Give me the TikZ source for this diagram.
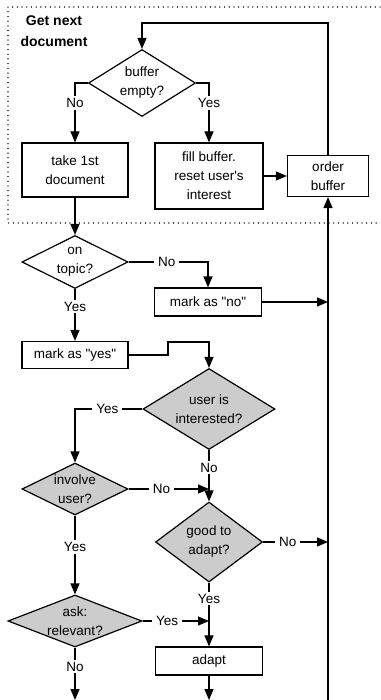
\documentclass[tikz,border=0pt]{standalone}
\usepackage{fontspec}
\setmainfont{Liberation Sans}
\usetikzlibrary{shapes.geometric,arrows.meta}

\begin{document}
\begin{tikzpicture}[x=1pt,y=-1pt,
  >={Triangle[length=11pt,width=9pt]},
  every node/.style={font=\fontsize{13.5}{19}\selectfont,align=center},
  proc/.style={draw,line width=1.2pt,inner sep=0pt},
  dec/.style={draw,diamond,line width=1.2pt,inner sep=0pt},
  shade/.style={dec,fill=black!20},
  lbl/.style={fill=white,inner xsep=4pt,inner ysep=2pt},
  flow/.style={->,line width=1.2pt}]
  \useasboundingbox (0,0) rectangle (380,700);
  % dotted frame round the first stage
  \draw[black!85,line width=1.3pt,dash pattern=on 0.01pt off 4.7pt,line cap=round]
    (380,7) -- (8,7) -- (8,223) -- (380,223);
  \node[font=\bfseries\fontsize{14}{21}\selectfont] (title) at (54,31) {Get next\\document};

  \node[dec,aspect=1.6,minimum width=107pt,minimum height=67pt] (buf) at (142,83) {buffer\\empty?};
  \node[proc,minimum width=106pt,minimum height=54pt] (take) at (75,170) {take 1st\\document};
  \node[proc,minimum width=108pt,minimum height=66pt] (fill) at (209,176) {fill buffer.\\reset user\textquotesingle s\\interest};
  \node[proc,minimum width=81pt,minimum height=41pt] (order) at (328,176) {order\\buffer};
  \node[dec,aspect=2,minimum width=106pt,minimum height=53pt] (topic) at (75,262) {on\\topic?};
  \node[proc,minimum width=107pt,minimum height=28pt] (markno) at (208,302) {mark as \textquotedbl no\textquotedbl};
  \node[proc,minimum width=106pt,minimum height=27pt] (markyes) at (75,355) {mark as \textquotedbl yes\textquotedbl};
  \node[shade,aspect=1.63,minimum width=132pt,minimum height=81pt] (user) at (209,409) {user is\\interested?};
  \node[shade,aspect=2.04,minimum width=106pt,minimum height=52pt] (involve) at (75,489) {involve\\user?};
  \node[shade,aspect=1.34,minimum width=107pt,minimum height=80pt] (good) at (209,542) {good to\\adapt?};
  \node[shade,aspect=2.58,minimum width=134pt,minimum height=52pt] (ask) at (75,621) {ask:\\relevant?};
  \node[proc,minimum width=107pt,minimum height=28pt] (adapt) at (209,661) {adapt};

  \coordinate (loop) at (142,23);
  \coordinate (rail) at (328,700);

  \draw[flow] (buf.west) -| node[lbl,pos=.67] {No} (take.north);
  \draw[flow] (buf.east) -| node[lbl,pos=.67] {Yes} (fill.north);
  \draw[flow] (fill.east) -- (order.west);
  \draw[flow] (order.north) |- (loop) -- (buf.north);
  \draw[flow] (take.south) -- (topic.north);
  \draw[flow] (topic.east) -| node[lbl,pos=.24] {No} (markno.north);
  \draw[flow] (topic.south) -- node[lbl,pos=.34] {Yes} (markyes.north);
  \draw[flow] (markno.east) -- (markno.east -| rail);
  \draw[flow] (markyes.east) -| (168,342) -| (user.north);
  \draw[flow] (user.west) -| node[lbl,pos=.26] {Yes} (involve.north);
  \draw[flow] (user.south) -- node[lbl,pos=.34] {No} (good.north);
  \draw[flow] (involve.east) -- node[lbl,pos=.41] {No} (involve.east -| good.north);
  \draw[flow] (involve.south) -- node[lbl,pos=.4] {Yes} (ask.north);
  \draw[flow] (good.east) -- node[lbl,pos=.38] {No} (good.east -| rail);
  \draw[flow] (good.south) -- node[lbl,pos=.25] {Yes} (adapt.north);
  \draw[flow] (ask.east) -- node[lbl,pos=.37] {Yes} (ask.east -| adapt.north);
  \draw[flow] (ask.south) -- node[lbl,pos=.36] {No} (ask.south |- rail);
  \draw[flow] (adapt.south) -- (adapt.south |- rail);
  \draw[flow] (rail) -- (order.south);
\end{tikzpicture}
\end{document}
